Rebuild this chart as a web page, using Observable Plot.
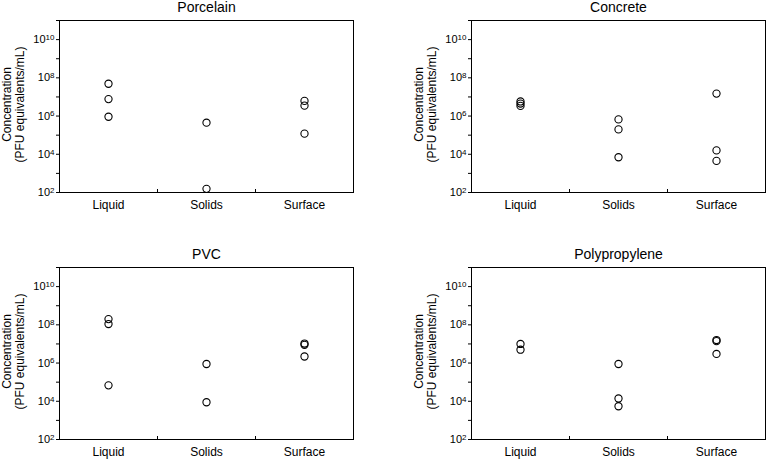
<!DOCTYPE html>
<html>
<head>
<meta charset="utf-8">
<script src="https://cdn.jsdelivr.net/npm/d3@7"></script>
<script src="https://cdn.jsdelivr.net/npm/@observablehq/plot@0.6"></script>
<style>
  html, body { margin: 0; padding: 0; background: white; }
  #chart { position: relative; width: 766px; height: 461px; background: white; }
  #chart svg { position: absolute; }
</style>
</head>
<body>
<div id="chart"></div>
<script>
// Categories and tick values
const categories = ["Liquid", "Solids", "Surface"];
const yTicks = [1e2, 1e3, 1e4, 1e5, 1e6, 1e7, 1e8, 1e9, 1e10, 1e11];
const yTickLabeled = [1e2, 1e4, 1e6, 1e8, 1e10];
const yLabel = "Concentration\n(PFU equivalents/mL)";

// Porcelain
const porcelainLiquid = [4.9e7, 7.7e6, 9.2e5];
const porcelainSolids = [4.5e5, 155];
const porcelainSurface = [6.2e6, 3.5e6, 1.2e5];
// Concrete
const concreteLiquid = [5.8e6, 4.5e6, 3.4e6];
const concreteSolids = [6.7e5, 2.0e5, 7.0e3];
const concreteSurface = [1.5e7, 1.6e4, 4.5e3];
// PVC
const pvcLiquid = [2.0e8, 1.1e8, 6.8e4];
const pvcSolids = [8.9e5, 8.9e3];
const pvcSurface = [1.05e7, 9.0e6, 2.2e6];
// Polypropylene
const ppLiquid = [1.0e7, 5.0e6];
const ppSolids = [8.9e5, 1.4e4, 5.5e3];
const ppSurface = [1.6e7, 1.4e7, 3.0e6];

function rows(liquid, solids, surface) {
  return [
    ...liquid.map(v => ({category: "Liquid", value: v})),
    ...solids.map(v => ({category: "Solids", value: v})),
    ...surface.map(v => ({category: "Surface", value: v}))
  ];
}

const panels = [
  {title: "Porcelain", data: rows(porcelainLiquid, porcelainSolids, porcelainSurface),
   left: 0, top: 0, width: 383, height: 230, ml: 59, mr: 30, mt: 20, mb: 38},
  {title: "Concrete", data: rows(concreteLiquid, concreteSolids, concreteSurface),
   left: 383, top: 0, width: 383, height: 230, ml: 88, mr: 1, mt: 20, mb: 38},
  {title: "PVC", data: rows(pvcLiquid, pvcSolids, pvcSurface),
   left: 0, top: 230, width: 383, height: 231, ml: 59, mr: 30, mt: 37, mb: 22},
  {title: "Polypropylene", data: rows(ppLiquid, ppSolids, ppSurface),
   left: 383, top: 230, width: 383, height: 231, ml: 88, mr: 1, mt: 37, mb: 22}
];

const ns = "http://www.w3.org/2000/svg";
const chart = document.getElementById("chart");

for (const p of panels) {
  const plotH = p.height - p.mt - p.mb;
  const step = (p.width - p.ml - p.mr) / categories.length;
  const svg = Plot.plot({
    width: p.width,
    height: p.height,
    marginLeft: p.ml,
    marginRight: p.mr,
    marginTop: p.mt,
    marginBottom: p.mb,
    style: {fontFamily: "'Liberation Sans', Arial, sans-serif", fontSize: "11px", color: "black", background: "white", overflow: "visible"},
    x: {type: "band", domain: categories, padding: 0, label: null},
    y: {type: "log", domain: [1e2, 1e11], label: null},
    marks: [
      Plot.frame({stroke: "black", strokeWidth: 1}),
      Plot.axisY({
        ticks: yTicks, tickSize: 3, tickPadding: 2, label: null,
        tickFormat: d => yTickLabeled.includes(d) ? "10^" + Math.round(Math.log10(d)) : ""
      }),
      Plot.axisX({tickSize: 0, tickPadding: 8, fontSize: 12, label: null}),
      Plot.tickX(categories.slice(1), {x: d => d, dx: -step / 2, insetTop: plotH - 3, stroke: "black"}),
      Plot.dot(p.data, {x: "category", y: "value", r: 3.6, stroke: "black", strokeWidth: 1.1, fill: "none"}),
      Plot.text([p.title], {text: d => d, frameAnchor: "top", dy: -13, lineAnchor: "middle", fontSize: 14}),
      Plot.text([yLabel], {text: d => d, frameAnchor: "left", textAnchor: "middle", lineAnchor: "middle", rotate: -90, dx: -46, dy: -2, fontSize: 12, lineHeight: 1.1})
    ]
  });
  // superscript exponents on y tick labels
  svg.querySelectorAll('[aria-label="y-axis tick label"] text').forEach(t => {
    const s = t.textContent;
    if (s.startsWith("10^")) {
      t.textContent = "10";
      const ts = document.createElementNS(ns, "tspan");
      ts.setAttribute("dy", "-0.4em");
      ts.setAttribute("font-size", "8");
      ts.textContent = s.slice(3);
      t.appendChild(ts);
    }
  });
  svg.style.left = p.left + "px";
  svg.style.top = p.top + "px";
  chart.appendChild(svg);
}
</script>
</body>
</html>
